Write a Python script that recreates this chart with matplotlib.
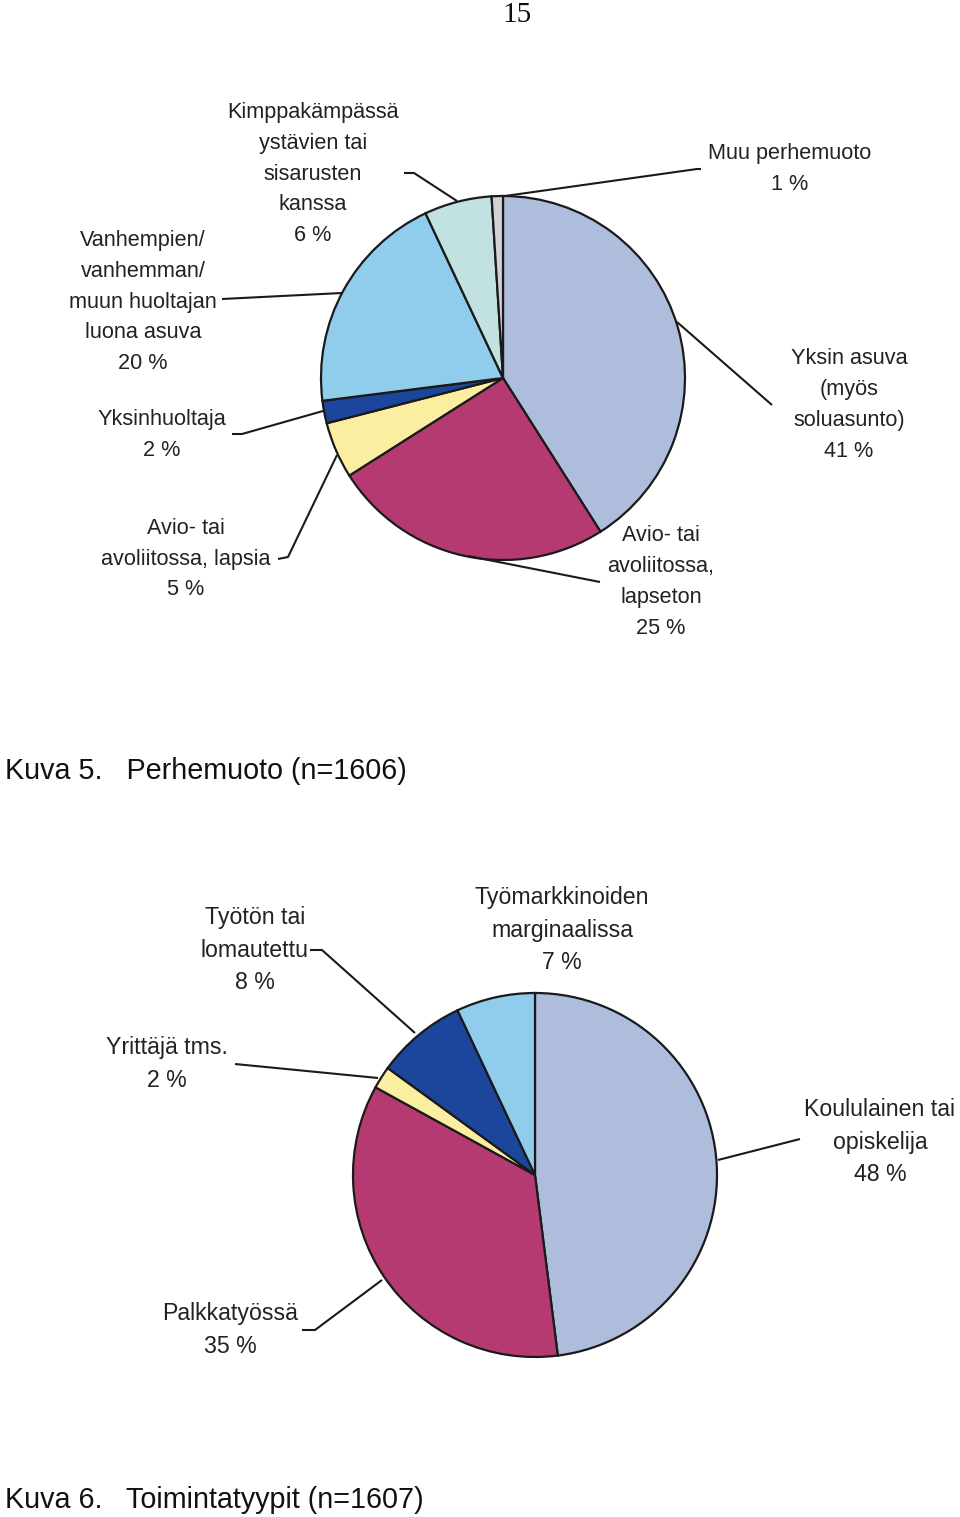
import matplotlib
matplotlib.use("Agg")
import matplotlib.pyplot as plt

W, H = 960, 1517

# ---- data ----
fam_labels = ["Yksin asuva\n(myös\nsoluasunto)\n41 %",
              "Avio- tai\navoliitossa,\nlapseton\n25 %",
              "Avio- tai\navoliitossa, lapsia\n5 %",
              "Yksinhuoltaja\n2 %",
              "Vanhempien/\nvanhemman/\nmuun huoltajan\nluona asuva\n20 %",
              "Kimppakämpässä\nystävien tai\nsisarusten\nkanssa\n6 %",
              "Muu perhemuoto\n1 %"]
fam_values = [41, 25, 5, 2, 20, 6, 1]
fam_colors = ["#AFBDDD", "#B63A72", "#FBEEA0", "#1B469B", "#90CDEC", "#C2E2E2", "#D2D2D2"]

act_labels = ["Koululainen tai\nopiskelija\n48 %",
              "Palkkatyössä\n35 %",
              "Yrittäjä tms.\n2 %",
              "Työtön tai\nlomautettu\n8 %",
              "Työmarkkinoiden\nmarginaalissa\n7 %"]
act_values = [48, 35, 2, 8, 7]
act_colors = ["#AFBDDD", "#B63A72", "#FBEEA0", "#1B469B", "#90CDEC"]

captions = ["Kuva 5.   Perhemuoto (n=1606)", "Kuva 6.   Toimintatyypit (n=1607)"]
page_number = "15"

# ---- layout (image pixel coords, y down) ----
fam_center, fam_radius = (503, 378), 182
act_center, act_radius = (535, 1175), 182

fam_text_pos = [(849, 405), (661, 582), (186, 559), (162, 435), (143, 302), (313, 174), (790, 169)]
act_text_pos = [(880, 1142), (230, 1330), (167, 1064), (255, 950), (562, 930)]

fam_leaders = [[(677, 322), (772, 405)],
               [(468, 556), (600, 582)],
               [(337, 455), (288, 557), (278, 559)],
               [(323, 411), (242, 434), (232, 434)],
               [(342, 293), (222, 299)],
               [(457, 201), (414, 173), (404, 173)],
               [(505, 196), (697, 169), (701, 169)]]
act_leaders = [[(718, 1160), (800, 1139)],
               [(382, 1280), (315, 1330), (302, 1330)],
               [(378, 1078), (235, 1064)],
               [(415, 1033), (322, 950), (310, 950)],
               []]

fig = plt.figure(figsize=(W / 100, H / 100), dpi=100)
ax = fig.add_axes([0, 0, 1, 1])
ax.set_xlim(0, W)
ax.set_ylim(0, H)
ax.set_aspect("equal")
ax.axis("off")

FONT = "Liberation Sans"


def Y(y):
    return H - y


def draw_pie(values, colors, center, radius, labels, text_pos, leaders, fs, ls):
    ax.pie(values, colors=colors, startangle=90, counterclock=False,
           center=(center[0], Y(center[1])), radius=radius,
           wedgeprops=dict(edgecolor="#1a1a1a", linewidth=1.6), frame=True)
    for lab, (x, y) in zip(labels, text_pos):
        ax.text(x, Y(y), lab, ha="center", va="center", fontsize=fs,
                family=FONT, color="#222222", linespacing=ls, multialignment="center")
    for pts in leaders:
        if pts:
            ax.plot([p[0] for p in pts], [Y(p[1]) for p in pts], color="#1a1a1a", lw=1.5,
                    solid_capstyle="butt")


draw_pie(fam_values, fam_colors, fam_center, fam_radius, fam_labels, fam_text_pos, fam_leaders, 15.6, 1.61)
draw_pie(act_values, act_colors, act_center, act_radius, act_labels, act_text_pos, act_leaders, 16.7, 1.54)

ax.set_xlim(0, W)
ax.set_ylim(0, H)
ax.axis("off")

ax.text(5, Y(771), captions[0], ha="left", va="center", fontsize=20.7, family=FONT, color="#111111")
ax.text(5, Y(1500), captions[1], ha="left", va="center", fontsize=20.7, family=FONT, color="#111111")
ax.text(517, Y(15), page_number, ha="center", va="center", fontsize=21,
        family="Liberation Serif", color="#111111")

fig.savefig("out.png", dpi=100)
